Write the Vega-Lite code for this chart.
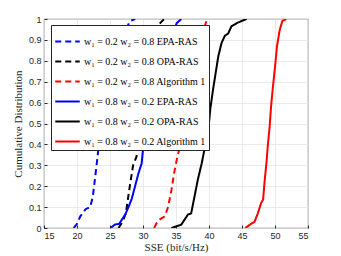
{
  "$schema": "https://vega.github.io/schema/vega-lite/v6.json",
  "width": 264,
  "height": 209,
  "autosize": {"type": "none"},
  "padding": {"left": 44, "top": 19, "right": 33, "bottom": 28},
  "background": "white",
  "config": {
    "view": {"stroke": "#262626", "strokeWidth": 0.8},
    "font": "Liberation Serif"
  },
  "datasets": {
    "pts": [
      {"s": "a", "x": 19.5, "y": 0}, {"s": "a", "x": 20.0, "y": 0.02}, {"s": "a", "x": 20.5, "y": 0.056}, {"s": "a", "x": 21.3, "y": 0.09}, {"s": "a", "x": 22.0, "y": 0.1}, {"s": "a", "x": 22.4, "y": 0.15}, {"s": "a", "x": 23.0, "y": 0.31}, {"s": "a", "x": 23.5, "y": 0.45}, {"s": "a", "x": 24.1, "y": 0.53}, {"s": "a", "x": 24.6, "y": 0.6}, {"s": "a", "x": 25.5, "y": 0.75}, {"s": "a", "x": 26.5, "y": 0.88}, {"s": "a", "x": 28.0, "y": 0.99}, {"s": "a", "x": 28.8, "y": 1.0},
      {"s": "b", "x": 26.3, "y": 0}, {"s": "b", "x": 26.9, "y": 0.03}, {"s": "b", "x": 27.4, "y": 0.07}, {"s": "b", "x": 28.0, "y": 0.2}, {"s": "b", "x": 28.5, "y": 0.3}, {"s": "b", "x": 29.0, "y": 0.34}, {"s": "b", "x": 29.4, "y": 0.42}, {"s": "b", "x": 29.8, "y": 0.49}, {"s": "b", "x": 30.0, "y": 0.57}, {"s": "b", "x": 30.3, "y": 0.6}, {"s": "b", "x": 30.9, "y": 0.75}, {"s": "b", "x": 31.5, "y": 0.88}, {"s": "b", "x": 32.3, "y": 0.97}, {"s": "b", "x": 33.2, "y": 1.0},
      {"s": "c", "x": 31.7, "y": 0}, {"s": "c", "x": 32.0, "y": 0.02}, {"s": "c", "x": 32.5, "y": 0.04}, {"s": "c", "x": 33.3, "y": 0.056}, {"s": "c", "x": 33.8, "y": 0.1}, {"s": "c", "x": 34.3, "y": 0.18}, {"s": "c", "x": 34.7, "y": 0.26}, {"s": "c", "x": 35.2, "y": 0.34}, {"s": "c", "x": 35.7, "y": 0.4}, {"s": "c", "x": 36.1, "y": 0.47}, {"s": "c", "x": 36.5, "y": 0.52}, {"s": "c", "x": 36.8, "y": 0.6}, {"s": "c", "x": 37.6, "y": 0.75}, {"s": "c", "x": 38.5, "y": 0.88}, {"s": "c", "x": 39.6, "y": 0.99}, {"s": "c", "x": 39.9, "y": 1.0},
      {"s": "d", "x": 25.1, "y": 0}, {"s": "d", "x": 25.7, "y": 0.016}, {"s": "d", "x": 26.4, "y": 0.02}, {"s": "d", "x": 26.8, "y": 0.04}, {"s": "d", "x": 27.3, "y": 0.064}, {"s": "d", "x": 27.8, "y": 0.1}, {"s": "d", "x": 28.3, "y": 0.14}, {"s": "d", "x": 28.8, "y": 0.2}, {"s": "d", "x": 29.3, "y": 0.26}, {"s": "d", "x": 29.8, "y": 0.31}, {"s": "d", "x": 30.0, "y": 0.375}, {"s": "d", "x": 30.4, "y": 0.45}, {"s": "d", "x": 30.8, "y": 0.5}, {"s": "d", "x": 31.3, "y": 0.53}, {"s": "d", "x": 31.5, "y": 0.58}, {"s": "d", "x": 31.8, "y": 0.61}, {"s": "d", "x": 32.8, "y": 0.75}, {"s": "d", "x": 34.0, "y": 0.88}, {"s": "d", "x": 35.1, "y": 0.98}, {"s": "d", "x": 35.8, "y": 1.0},
      {"s": "e", "x": 34.3, "y": 0}, {"s": "e", "x": 35.8, "y": 0.016}, {"s": "e", "x": 36.3, "y": 0.04}, {"s": "e", "x": 36.8, "y": 0.064}, {"s": "e", "x": 37.3, "y": 0.07}, {"s": "e", "x": 37.8, "y": 0.15}, {"s": "e", "x": 38.3, "y": 0.23}, {"s": "e", "x": 38.9, "y": 0.31}, {"s": "e", "x": 39.4, "y": 0.39}, {"s": "e", "x": 39.9, "y": 0.47}, {"s": "e", "x": 40.2, "y": 0.57}, {"s": "e", "x": 40.6, "y": 0.66}, {"s": "e", "x": 41.0, "y": 0.74}, {"s": "e", "x": 41.4, "y": 0.82}, {"s": "e", "x": 41.9, "y": 0.885}, {"s": "e", "x": 42.4, "y": 0.92}, {"s": "e", "x": 42.9, "y": 0.93}, {"s": "e", "x": 43.4, "y": 0.965}, {"s": "e", "x": 44.2, "y": 0.98}, {"s": "e", "x": 44.9, "y": 0.99}, {"s": "e", "x": 45.7, "y": 1.0},
      {"s": "f", "x": 45.5, "y": 0}, {"s": "f", "x": 46.2, "y": 0.016}, {"s": "f", "x": 46.9, "y": 0.03}, {"s": "f", "x": 47.4, "y": 0.07}, {"s": "f", "x": 47.9, "y": 0.12}, {"s": "f", "x": 48.2, "y": 0.136}, {"s": "f", "x": 48.4, "y": 0.215}, {"s": "f", "x": 48.7, "y": 0.31}, {"s": "f", "x": 48.9, "y": 0.39}, {"s": "f", "x": 49.2, "y": 0.49}, {"s": "f", "x": 49.4, "y": 0.58}, {"s": "f", "x": 49.7, "y": 0.68}, {"s": "f", "x": 50.0, "y": 0.77}, {"s": "f", "x": 50.3, "y": 0.87}, {"s": "f", "x": 50.7, "y": 0.945}, {"s": "f", "x": 51.1, "y": 0.99}, {"s": "f", "x": 51.7, "y": 1.0}
    ],
    "names": [
      {"s": "a", "label": "w₁ = 0.2 w₂ = 0.8 EPA-RAS"},
      {"s": "b", "label": "w₁ = 0.2 w₂ = 0.8 OPA-RAS"},
      {"s": "c", "label": "w₁ = 0.2 w₂ = 0.8 Algorithm 1"},
      {"s": "d", "label": "w₁ = 0.8 w₂ = 0.2 EPA-RAS"},
      {"s": "e", "label": "w₁ = 0.8 w₂ = 0.2 OPA-RAS"},
      {"s": "f", "label": "w₁ = 0.8 w₂ = 0.2 Algorithm 1"}
    ]
  },
  "data": {"name": "pts"},
  "transform": [
    {"lookup": "s", "from": {"data": {"name": "names"}, "key": "s", "fields": ["label"]}}
  ],
  "mark": {"type": "line", "strokeWidth": 2, "clip": true},
  "encoding": {
    "x": {
      "field": "x", "type": "quantitative",
      "scale": {"domain": [15, 55], "nice": false, "zero": false},
      "axis": {
        "title": "SSE (bit/s/Hz)", "values": [15, 20, 25, 30, 35, 40, 45, 50, 55],
        "grid": true, "gridColor": "#e6e6e6", "gridWidth": 0.8,
        "tickSize": -3, "tickColor": "#262626", "domain": false,
        "labelFont": "Liberation Sans", "labelFontSize": 9, "labelColor": "#262626", "labelPadding": 6,
        "titleFont": "Liberation Serif", "titleFontSize": 11, "titleFontWeight": "normal", "titleColor": "#262626", "titlePadding": 1
      }
    },
    "y": {
      "field": "y", "type": "quantitative",
      "scale": {"domain": [0, 1], "nice": false},
      "axis": {
        "title": "Cumulative Distribution", "values": [0, 0.1, 0.2, 0.3, 0.4, 0.5, 0.6, 0.7, 0.8, 0.9, 1],
        "format": ".1~f",
        "grid": true, "gridColor": "#e6e6e6", "gridWidth": 0.8,
        "tickSize": -3, "tickColor": "#262626", "domain": false,
        "labelFont": "Liberation Sans", "labelFontSize": 9, "labelColor": "#262626", "labelPadding": 6,
        "titleFont": "Liberation Serif", "titleFontSize": 11, "titleFontWeight": "normal", "titleColor": "#262626", "titlePadding": 5
      }
    },
    "color": {
      "field": "label", "type": "nominal",
      "scale": {
        "domain": ["w₁ = 0.2 w₂ = 0.8 EPA-RAS", "w₁ = 0.2 w₂ = 0.8 OPA-RAS", "w₁ = 0.2 w₂ = 0.8 Algorithm 1", "w₁ = 0.8 w₂ = 0.2 EPA-RAS", "w₁ = 0.8 w₂ = 0.2 OPA-RAS", "w₁ = 0.8 w₂ = 0.2 Algorithm 1"],
        "range": ["#0000ff", "#000000", "#ff0000", "#0000ff", "#000000", "#ff0000"]
      },
      "legend": {
        "title": null, "orient": "none", "legendX": 7, "legendY": 6,
        "symbolType": "stroke", "symbolSize": 600, "symbolStrokeWidth": 2,
        "labelFont": "Liberation Serif", "labelFontSize": 10, "labelColor": "#000000",
        "fillColor": "white", "strokeColor": "#262626", "padding": 3, "rowPadding": 1,
        "labelOffset": 3, "labelLimit": 300
      }
    },
    "strokeDash": {
      "field": "label", "type": "nominal",
      "scale": {
        "domain": ["w₁ = 0.2 w₂ = 0.8 EPA-RAS", "w₁ = 0.2 w₂ = 0.8 OPA-RAS", "w₁ = 0.2 w₂ = 0.8 Algorithm 1", "w₁ = 0.8 w₂ = 0.2 EPA-RAS", "w₁ = 0.8 w₂ = 0.2 OPA-RAS", "w₁ = 0.8 w₂ = 0.2 Algorithm 1"],
        "range": [[6, 4], [6, 4], [6, 4], [1, 0], [1, 0], [1, 0]]
      },
      "legend": {
        "title": null, "orient": "none", "legendX": 7, "legendY": 6,
        "symbolType": "stroke", "symbolSize": 600, "symbolStrokeWidth": 2,
        "labelFont": "Liberation Serif", "labelFontSize": 10, "labelColor": "#000000",
        "fillColor": "white", "strokeColor": "#262626", "padding": 3, "rowPadding": 1,
        "labelOffset": 3, "labelLimit": 300
      }
    },
    "order": {"field": "y", "type": "quantitative"}
  }
}
